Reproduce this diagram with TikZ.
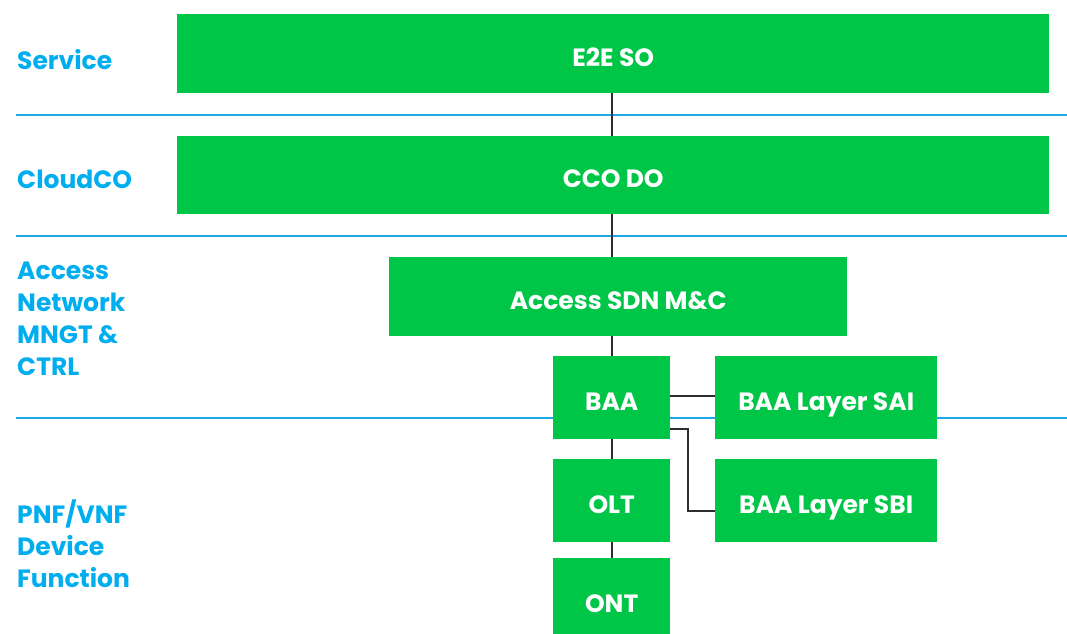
\documentclass[tikz,border=0pt]{standalone}
\usepackage{fontspec}
\setmainfont{Poppins}
\usepackage{tikz}
\usetikzlibrary{positioning,calc}
\definecolor{boxgreen}{RGB}{0,198,72}
\definecolor{labelblue}{RGB}{0,174,239}
\definecolor{sepblue}{RGB}{27,169,229}
\definecolor{linkgray}{RGB}{45,45,45}
\tikzset{
    block/.style={rectangle, fill=boxgreen, text=white, anchor=north west, inner sep=0pt,
        text height=25pt, text depth=0pt, font=\fontsize{25}{28}\selectfont\bfseries},
    layer label/.style={anchor=west, align=left, text=labelblue, inner sep=0pt,
        font=\fontsize{25}{32}\selectfont\bfseries},
    separator/.style={sepblue, line width=2pt},
    link/.style={linkgray, line width=2pt}
}
\begin{document}
\begin{tikzpicture}[x=1pt, y=-1pt]
    \useasboundingbox (0,0) rectangle (1067,633);

    % Layer separators
    \foreach \y in {115,236,418} {
        \draw[separator] (16,\y) -- (1067,\y);
    }

    % Layer labels
    \node[layer label] (L-service) at (17,60) {Service};
    \node[layer label] (L-cloudco) at (17,179) {CloudCO};
    \node[layer label] (L-access) at (17,319) {Access\\Network\\MNGT \&\\CTRL};
    \node[layer label] (L-pnf) at (17,544) {PNF/VNF\\Device\\Function};

    % Blocks
    \node[block, minimum width=872, minimum height=79] (E2E) at (177,14) {E2E SO};
    \node[block, minimum width=872, minimum height=78] (CCO) at (177,136) {CCO DO};
    \node[block, minimum width=458, minimum height=79] (SDN) at (389,257) {Access SDN M\&C};
    \node[block, minimum width=117, minimum height=83] (BAA) at (553,356) {BAA};
    \node[block, minimum width=222, minimum height=83] (SAI) at (715,356) {BAA Layer SAI};
    \node[block, minimum width=117, minimum height=83] (OLT) at (553,459) {OLT};
    \node[block, minimum width=222, minimum height=83] (SBI) at (715,459) {BAA Layer SBI};
    \node[block, minimum width=117, minimum height=84] (ONT) at (553,558) {ONT};

    % Vertical links
    \draw[link] (E2E.south -| BAA.south) -- (CCO.north -| BAA.south);
    \draw[link] (CCO.south -| BAA.south) -- (SDN.north -| BAA.south);
    \draw[link] (SDN.south -| BAA.south) -- (BAA.north);
    \draw[link] (BAA.south) -- (OLT.north);
    \draw[link] (OLT.south) -- (ONT.north);

    % BAA side links
    \draw[link] ($(BAA.north east)!0.48!(BAA.south east)$) -- ($(SAI.north west)!0.48!(SAI.south west)$);
    \draw[link] ($(BAA.north east)!0.87!(BAA.south east)$) -| (688,511) -- (SBI.west |- 0,511);
\end{tikzpicture}
\end{document}
